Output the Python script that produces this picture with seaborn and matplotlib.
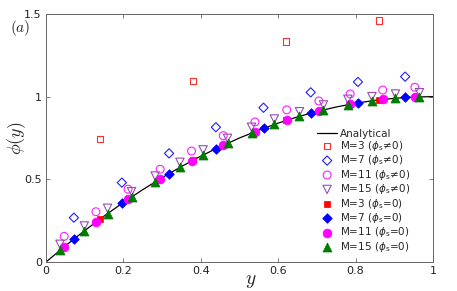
import matplotlib
matplotlib.use("Agg")
import matplotlib.pyplot as plt
import seaborn as sns

# analytical curve
y_line = [0.0, 0.05, 0.1, 0.15, 0.2, 0.25, 0.3, 0.35, 0.4, 0.45, 0.5,
          0.55, 0.6, 0.65, 0.7, 0.75, 0.8, 0.85, 0.9, 0.95, 1.0]
phi_line = [0.0, 0.0975, 0.19, 0.2775, 0.36, 0.4375, 0.51, 0.5775, 0.64, 0.6975, 0.75,
            0.7975, 0.84, 0.8775, 0.91, 0.9375, 0.96, 0.9775, 0.99, 0.9975, 1.0]

# M=3
y_m3 = [0.14, 0.38, 0.62, 0.86]
phi_m3_ns = [0.745, 1.095, 1.333, 1.46]
phi_m3_s0 = [0.260, 0.616, 0.856, 0.980]

# M=7
y_m7 = [0.072, 0.196, 0.318, 0.439, 0.562, 0.684, 0.806, 0.928]
phi_m7_ns = [0.268, 0.48, 0.657, 0.815, 0.933, 1.026, 1.089, 1.121]
phi_m7_s0 = [0.139, 0.354, 0.535, 0.685, 0.808, 0.900, 0.962, 0.995]

# M=11
y_m11 = [0.047, 0.129, 0.212, 0.295, 0.376, 0.458, 0.540, 0.622, 0.705, 0.786, 0.870, 0.953]
phi_m11_ns = [0.155, 0.304, 0.44, 0.561, 0.671, 0.764, 0.847, 0.92, 0.974, 1.016, 1.04, 1.057]
phi_m11_s0 = [0.092, 0.241, 0.379, 0.503, 0.611, 0.706, 0.788, 0.857, 0.913, 0.954, 0.983, 0.998]

# M=15
y_m15 = [0.036, 0.099, 0.159, 0.221, 0.282, 0.346, 0.406, 0.469,
         0.531, 0.590, 0.655, 0.717, 0.780, 0.842, 0.903, 0.965]
phi_m15_ns = [0.107, 0.218, 0.325, 0.425, 0.52, 0.603, 0.678, 0.748,
              0.815, 0.865, 0.909, 0.95, 0.984, 1.0, 1.016, 1.024]
phi_m15_s0 = [0.071, 0.188, 0.293, 0.393, 0.484, 0.572, 0.647, 0.718,
              0.780, 0.832, 0.881, 0.920, 0.952, 0.975, 0.991, 0.999]

sns.set_style("ticks")
plt.rcParams['font.family'] = ['DejaVu Sans']
plt.rcParams['mathtext.fontset'] = 'dejavusans'

fig = plt.figure(figsize=(4.57, 2.91), dpi=100)
ax = fig.add_axes([0.1007, 0.0997, 0.8468, 0.8523])

sns.lineplot(x=y_line, y=phi_line, color='black', linewidth=0.9, ax=ax,
             label='Analytical', zorder=1)

hollow = [
    (y_m3, phi_m3_ns, 's', '#ff3030', 20, 'M=3'),
    (y_m7, phi_m7_ns, 'D', '#2020ff', 22, 'M=7'),
    (y_m11, phi_m11_ns, 'o', '#ff20ff', 32, 'M=11'),
    (y_m15, phi_m15_ns, 'v', '#9050b0', 36, 'M=15'),
]
for xs, ys, mk, col, sz, name in hollow:
    sns.scatterplot(x=xs, y=ys, marker=mk, s=sz, facecolor='none', edgecolor=col,
                    linewidth=0.8, ax=ax, zorder=2,
                    label=name + r' ($\phi_{\rm s}\!\neq\!$0)')

filled = [
    (y_m3, phi_m3_s0, 's', '#ff0000', 22, 'M=3'),
    (y_m7, phi_m7_s0, 'D', '#0000ff', 24, 'M=7'),
    (y_m11, phi_m11_s0, 'o', '#ff00ff', 40, 'M=11'),
    (y_m15, phi_m15_s0, '^', '#007a00', 42, 'M=15'),
]
for xs, ys, mk, col, sz, name in filled:
    sns.scatterplot(x=xs, y=ys, marker=mk, s=sz, color=col, edgecolor=col,
                    linewidth=0.5, ax=ax, zorder=3,
                    label=name + r' ($\phi_{\rm s}$=0)')

ax.set_xlim(0, 1)
ax.set_ylim(0, 1.5)
ax.set_xticks([0, 0.2, 0.4, 0.6, 0.8, 1])
ax.set_xticklabels(['0', '0.2', '0.4', '0.6', '0.8', '1'])
ax.set_yticks([0, 0.5, 1, 1.5])
ax.set_yticklabels(['0', '0.5', '1', '1.5'])
ax.tick_params(direction='in', length=3, width=0.6, labelsize=8,
               top=True, right=True, color='#666666', labelcolor='#222222', pad=3)
for sp in ax.spines.values():
    sp.set_visible(True)
    sp.set_color('#666666')
    sp.set_linewidth(0.7)

ax.set_xlabel(r'$y$', fontsize=14, math_fontfamily='cm')
ax.xaxis.set_label_coords(0.53, -0.035)
ax.set_ylabel(r'$\phi(y)$', fontsize=13, labelpad=-3, math_fontfamily='cm')
fig.text(0.045, 0.905, r'$(a)$', fontsize=11, ha='center', va='center',
         math_fontfamily='cm')

leg = ax.legend(loc='upper left', bbox_to_anchor=(0.69, 0.555), frameon=False,
                fontsize=7.5, handlelength=1.9, handletextpad=0.3,
                labelspacing=0.04, borderaxespad=0)

fig.savefig('out.png', dpi=100)
